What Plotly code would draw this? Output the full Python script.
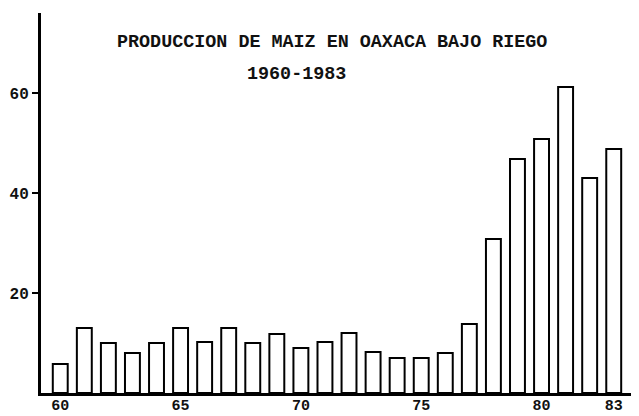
import plotly.graph_objects as go

# years and production values
years = list(range(1960, 1984))
produccion = [5.8, 13.0, 10.0, 8.0, 10.0, 13.0, 10.2, 13.0, 10.0, 11.8, 9.0, 10.2,
              12.0, 8.2, 7.0, 7.0, 8.0, 13.8, 30.8, 46.8, 50.8, 61.2, 43.0, 48.8]

x_ticks = [1960, 1965, 1970, 1975, 1980, 1983]
x_labels = ['60', '65', '70', '75', '80', '83']
y_ticks = [20, 40, 60]

font_fam = "Liberation Mono, Courier New, monospace"

fig = go.Figure()
fig.add_trace(go.Bar(
    x=years, y=produccion, width=0.62,
    marker=dict(color='white', line=dict(color='black', width=2)),
))

# title, hand typed on the original
fig.add_annotation(text="PRODUCCION DE MAIZ EN OAXACA BAJO RIEGO",
                   xref='paper', yref='paper', x=0.487, y=0.955,
                   showarrow=False,
                   font=dict(family=font_fam, size=18.4, color='#111', weight='bold'))
fig.add_annotation(text="1960-1983",
                   xref='paper', yref='paper', x=0.428, y=0.871,
                   showarrow=False,
                   font=dict(family=font_fam, size=18.4, color='#111', weight='bold'))

# page body has an 8px margin, so the figure is a bit smaller than the window
fig.update_layout(
    width=631, height=408,
    margin=dict(l=33, r=0, t=5, b=23),
    paper_bgcolor='white', plot_bgcolor='white',
    showlegend=False,
    xaxis=dict(range=[1959.2, 1984.05], showline=True, linewidth=3, linecolor='black',
               ticks='', ticklen=0, ticklabelstandoff=-4, tickvals=x_ticks, ticktext=x_labels,
               showgrid=False, zeroline=False, automargin=False,
               tickfont=dict(family=font_fam, size=15, color='#111', weight='bold')),
    yaxis=dict(range=[0, 76], showline=True, linewidth=3, linecolor='black',
               ticks='outside', ticklen=6, tickwidth=2, tickcolor='black',
               tickvals=y_ticks, showgrid=False, zeroline=False, automargin=False,
               tickfont=dict(family=font_fam, size=16, color='#111', weight='bold')),
)

fig.write_html("out.html")
